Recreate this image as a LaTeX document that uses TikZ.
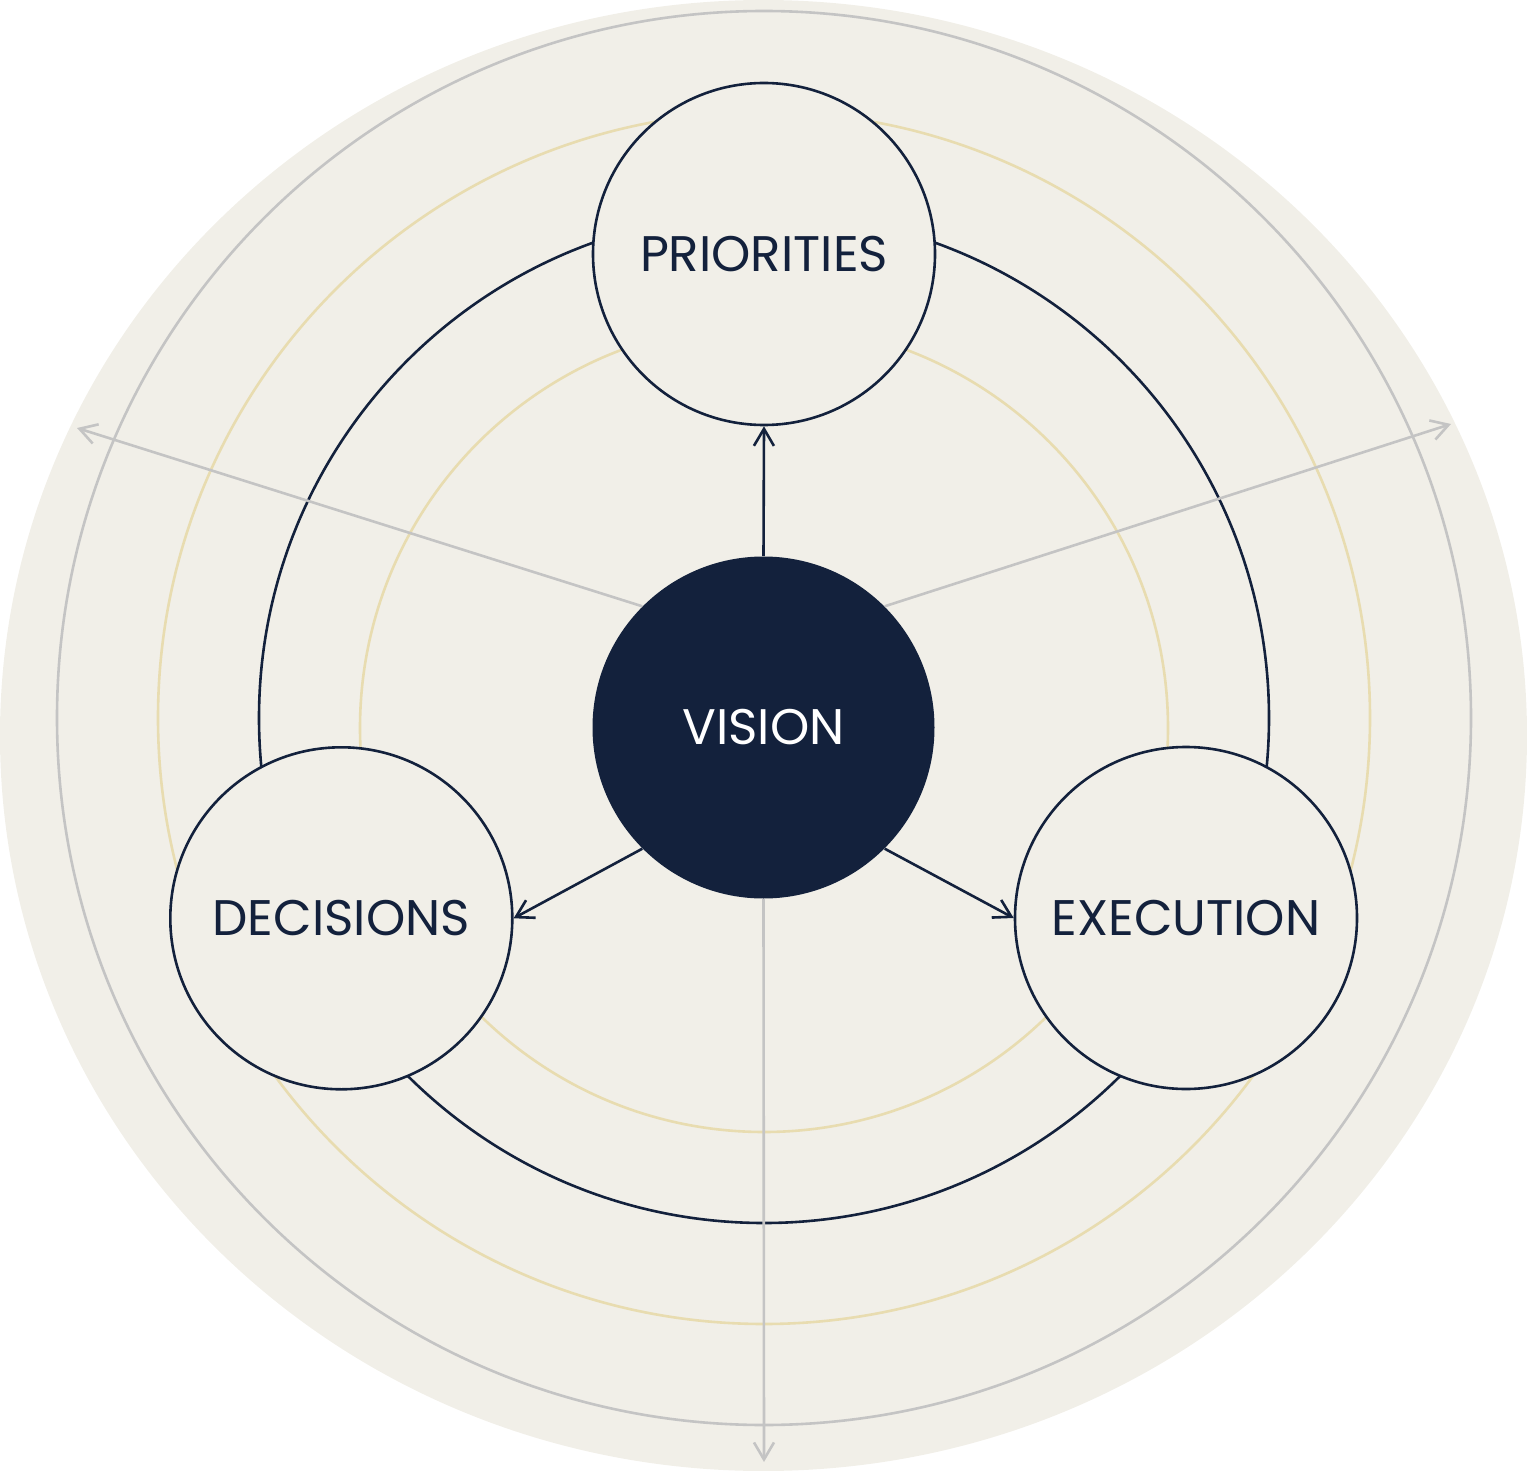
\documentclass[tikz,border=0pt]{standalone}
\usepackage{fontspec}
\setmainfont{Poppins}
\usetikzlibrary{arrows.meta}
\definecolor{bg}{HTML}{F1EFE8}
\definecolor{navy}{HTML}{13213C}
\definecolor{greyline}{HTML}{C4C4C4}
\definecolor{gold}{HTML}{E8DCB0}
\begin{document}
\begin{tikzpicture}[x=0.5pt,y=-0.5pt,
  labelfont/.style={font=\fontsize{25pt}{30pt}\selectfont},
  ringline/.style={line width=1.3pt},
  sat/.style={circle, draw=navy, fill=bg, line width=1.3pt, minimum size=171pt, inner sep=0pt, text=navy, labelfont},
  core/.style={circle, fill=navy, minimum size=171pt, inner sep=0pt, text=white, labelfont},
  navyarrow/.style={draw=navy, line width=1.3pt, -{Straight Barb[length=8.5pt,width=10pt]}},
  greyarrow/.style={draw=greyline, line width=1.3pt, -{Straight Barb[length=8.5pt,width=10pt]}}
]
\useasboundingbox (0,0) rectangle (1527,1471);
\fill[bg] (763.5,735.5) ellipse [x radius=763.5, y radius=735.5];
% rings
\draw[greyline, ringline] (764,718) circle [radius=707];
\draw[gold, ringline] (764,718) circle [radius=606];
\draw[gold, ringline] (764,728) circle [radius=404];
\draw[navy, ringline] (764,718) circle [radius=505];
% nodes
\node[core] (vision) at (763.5,727.5) {VISION};
\node[sat] (prio) at (764,254) {PRIORITIES};
\node[sat] (dec) at (341.3,918.3) {DECISIONS};
\node[sat] (exe) at (1186,918) {EXECUTION};
% grey axes
\coordinate (gl) at (77,428);
\coordinate (gr) at (1451,424);
\coordinate (gb) at (764,1462);
\draw[greyarrow] (vision.135) -- (gl);
\draw[greyarrow] (vision.45) -- (gr);
\draw[greyarrow] (vision.south) -- (gb);
% navy arrows
\draw[navyarrow] (vision.north) -- (prio.south);
\draw[navyarrow] (vision.225) -- (dec.east);
\draw[navyarrow] (vision.-45) -- (exe.west);
\end{tikzpicture}
\end{document}
